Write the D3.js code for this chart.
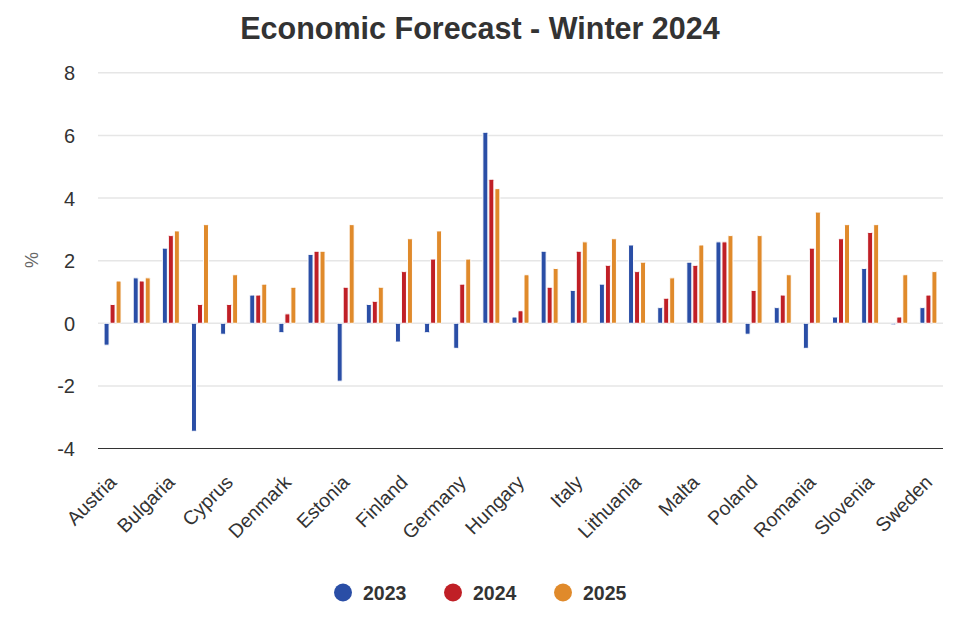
<!DOCTYPE html>
<html>
<head>
<meta charset="utf-8">
<script src="https://cdn.jsdelivr.net/npm/d3@7/dist/d3.min.js"></script>
<style>
  html, body { margin: 0; padding: 0; background: #fff; }
  svg { display: block; font-family: "Liberation Sans", Arial, sans-serif; }
</style>
</head>
<body>
<svg id="chart" width="960" height="640"></svg>
<script>
const categories = ["Austria","Belgium","Bulgaria","Croatia","Cyprus","Czechia","Denmark","EA","Estonia","EU","Finland","France","Germany","Greece","Hungary","Ireland","Italy","Latvia","Lithuania","Luxembourg","Malta","Netherlands","Poland","Portugal","Romania","Slovakia","Slovenia","Spain","Sweden"];
const seriesNames = ["2023","2024","2025"];
const values2023 = [-0.7, 1.45, 2.4, -3.45, -0.35, 0.9, -0.3, 2.2, -1.85, 0.6, -0.6, -0.3, -0.8, 6.1, 0.2, 2.3, 1.05, 1.25, 2.5, 0.5, 1.95, 2.6, -0.35, 0.5, -0.8, 0.2, 1.75, -0.05, 0.5];
const values2024 = [0.6, 1.35, 2.8, 0.6, 0.6, 0.9, 0.3, 2.3, 1.15, 0.7, 1.65, 2.05, 1.25, 4.6, 0.4, 1.15, 2.3, 1.85, 1.65, 0.8, 1.85, 2.6, 1.05, 0.9, 2.4, 2.7, 2.9, 0.2, 0.9];
const values2025 = [1.35, 1.45, 2.95, 3.15, 1.55, 1.25, 1.15, 2.3, 3.15, 1.15, 2.7, 2.95, 2.05, 4.3, 1.55, 1.75, 2.6, 2.7, 1.95, 1.45, 2.5, 2.8, 2.8, 1.55, 3.55, 3.15, 3.15, 1.55, 1.65];
const yTicks = [-4, -2, 0, 2, 4, 6, 8];
const colors = ["#2a4ea6", "#c01f26", "#e08a2b"];
const titleText = "Economic Forecast - Winter 2024";
const yAxisTitle = "%";

const seriesValues = [values2023, values2024, values2025];
const svg = d3.select("#chart");

const x0 = d3.scaleBand().domain(categories).range([98, 943]).padding(0);
const y = d3.scaleLinear().domain([-4, 8]).range([448.5, 72.8]);

// title
svg.append("text").attr("x", 480).attr("y", 39).attr("text-anchor", "middle")
  .attr("font-size", 30.5).attr("font-weight", "bold").attr("fill", "#333").text(titleText);

// gridlines
svg.append("g").selectAll("line").data(yTicks.filter(t => t !== -4)).join("line")
  .attr("x1", 98).attr("x2", 943)
  .attr("y1", d => y(d)).attr("y2", d => y(d))
  .attr("stroke", "#e6e6e6").attr("stroke-width", 1.5);

// y axis labels
const yAxis = d3.axisLeft(y).tickValues(yTicks).tickSize(0).tickPadding(0).tickFormat(d => String(d));
const gy = svg.append("g").attr("transform", "translate(75,0)").call(yAxis);
gy.select(".domain").remove();
gy.selectAll("text").attr("font-size", 20).attr("fill", "#333")
  .attr("font-family", "'Liberation Sans', Arial, sans-serif").attr("dy", "0.35em");

// y axis title
svg.append("text").attr("transform", "translate(38,260) rotate(-90)")
  .attr("text-anchor", "middle").attr("font-size", 18).attr("fill", "#666").text(yAxisTitle);

// bars
const x1 = d3.scaleBand().domain(seriesNames).range([-9, 9]).padding(0);
const groups = svg.append("g").selectAll("g").data(categories).join("g")
  .attr("transform", d => `translate(${x0(d) + x0.bandwidth() / 2},0)`);
groups.selectAll("rect").data((d, i) => seriesNames.map((s, k) => ({ s, k, v: seriesValues[k][i] })))
  .join("rect")
  .attr("x", d => x1(d.s) + 0.5)
  .attr("width", x1.bandwidth() - 1)
  .attr("y", d => y(Math.max(0, d.v)))
  .attr("height", d => Math.abs(y(d.v) - y(0)))
  .attr("rx", 1)
  .attr("fill", d => colors[d.k])
  .attr("stroke", "#fff").attr("stroke-width", 1);

// baseline at -4
svg.append("line").attr("x1", 98).attr("x2", 943).attr("y1", y(-4)).attr("y2", y(-4))
  .attr("stroke", "#333").attr("stroke-width", 1.2);

// x labels (every other)
const xAxis = d3.axisBottom(x0).tickSize(0).tickFormat((d, i) => i % 2 === 0 ? d : "");
const gx = svg.append("g").attr("transform", `translate(0,${y(-4)})`).call(xAxis);
gx.select(".domain").remove();
gx.selectAll("text")
  .attr("font-size", 19.5).attr("fill", "#333")
  .attr("font-family", "'Liberation Sans', Arial, sans-serif")
  .attr("text-anchor", "end")
  .attr("y", 0).attr("dy", 0)
  .attr("transform", "translate(5,35) rotate(-45)");

// legend
const legendX = [343, 453, 563];
const lg = svg.append("g").selectAll("g").data(seriesNames).join("g")
  .attr("transform", (d, i) => `translate(${legendX[i]},592.5)`);
lg.append("circle").attr("r", 9).attr("fill", (d, i) => colors[i]);
lg.append("text").attr("x", 20).attr("y", 7).attr("font-size", 19.5).attr("font-weight", "bold")
  .attr("fill", "#333").text(d => d);
</script>
</body>
</html>
